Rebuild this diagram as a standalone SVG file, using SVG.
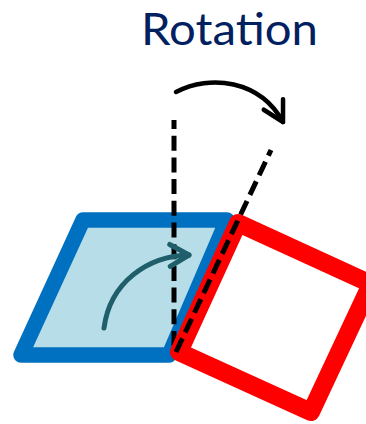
<svg xmlns="http://www.w3.org/2000/svg" width="366" height="424" viewBox="0 0 366 424">
<style>
.title{font-family:Lato,"Noto Sans","Liberation Sans",sans-serif;font-size:45px;fill:#002060}
.dash{fill:none;stroke:#000;stroke-width:5;stroke-dasharray:15 6.7}
</style>
<defs>
<marker id="blk" markerUnits="userSpaceOnUse" markerWidth="30" markerHeight="30" refX="0" refY="0" viewBox="-15 -15 30 30" orient="auto" overflow="visible">
<path d="M-20,-11 L0,0 L-20,11" fill="none" stroke="#000" stroke-width="4.5" stroke-linecap="round" stroke-linejoin="round"/>
</marker>
<marker id="teal" markerUnits="userSpaceOnUse" markerWidth="30" markerHeight="30" refX="0" refY="0" viewBox="-15 -15 30 30" orient="auto" overflow="visible">
<path d="M-19,-11 L0,0 L-19,11" fill="none" stroke="#1F5E6B" stroke-width="5" stroke-linecap="round" stroke-linejoin="round"/>
</marker>
</defs>
<g id="title"><text class="title" x="141" y="45" textLength="177" lengthAdjust="spacingAndGlyphs">Rotation</text></g>
<g id="blue-shape">
<polygon points="83,220 227,220 169,355 21,355" fill="#B7DEE8" stroke="#0070C0" stroke-width="15.5" stroke-linejoin="round"/>
</g>
<g id="connectors">
<path class="dash" d="M174,120 L174,356" stroke-dashoffset="6"/>
</g>
<g id="red-shape">
<polygon points="179,352 238,223 371,284 311,412" fill="#FFFFFF" stroke="#FF0000" stroke-width="18" stroke-linejoin="round"/>
</g>
<g id="connectors-top">
<path class="dash" d="M176,352 L271,150"/>
<path d="M176,92 C210,74 260,80 283,122" fill="none" stroke="#000" stroke-width="4.5" stroke-linecap="round" marker-end="url(#blk)"/>
<path d="M104,328 C110,282 148,256 189,255" fill="none" stroke="#1F5E6B" stroke-width="5" stroke-linecap="round" marker-end="url(#teal)"/>
</g>
</svg>
